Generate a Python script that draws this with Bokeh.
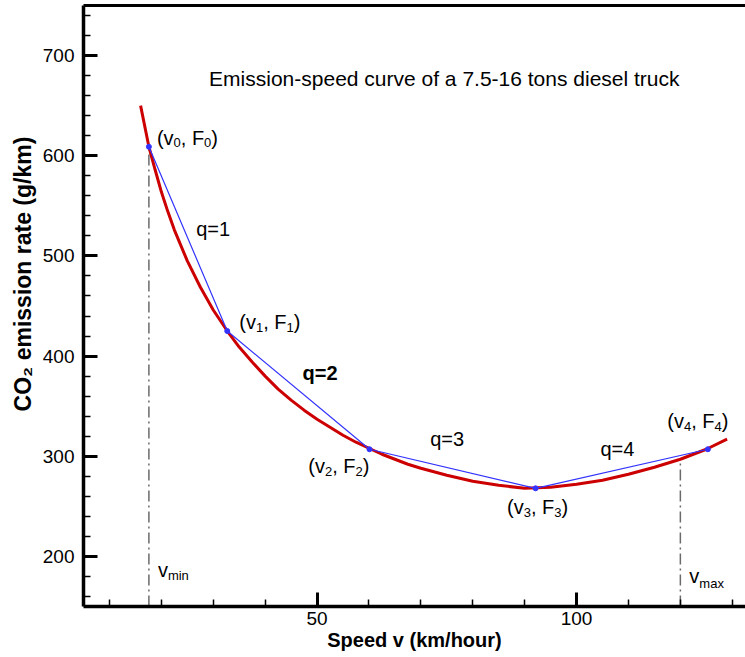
import math
from bokeh.plotting import figure
from bokeh.models import Label, FixedTicker, LinearAxis, Range1d
from bokeh.embed import file_html
from bokeh.resources import INLINE

# ---------------- data ----------------
speed = [16, 17.6, 18.8, 20, 21.2, 22.5, 25, 27.5, 30, 32.7, 35, 37.5, 40, 42.5, 45,
         47.5, 50, 52.5, 55, 57.5, 60, 62.5, 65, 67.5, 70, 75, 80, 85, 90, 95,
         100, 105, 110, 115, 120, 125, 129]
emission = [650, 609, 586, 564, 545, 526, 495, 469, 446, 425, 409, 394, 380, 367, 356,
            346, 337, 329, 321, 314, 308, 302, 297, 292, 288, 281, 275, 271, 268, 269,
            272, 276, 282, 289, 297, 307, 317]

bp_speed = [17.6, 32.7, 60.1, 92.1, 125.3]
bp_emission = [609, 425, 307, 268, 307]

guide_speed = [17.6, 120]          # v_min, v_max
guide_top = [609, 297]             # curve value at v_min / v_max

x_major = [50, 100]
x_minor = [10, 20, 30, 40, 60, 70, 80, 90, 110, 120, 130]
y_major = [200, 300, 400, 500, 600, 700]
y_minor = [160, 180, 220, 240, 260, 280, 320, 340, 360, 380, 420, 440, 460, 480,
           520, 540, 560, 580, 620, 640, 660, 680, 720, 740]

FONT = "Liberation Sans"
LIFT = 9   # screen-pixel correction for label baselines

p = figure(width=745, height=657, x_range=Range1d(5, 132.55), y_range=Range1d(150, 750),
           output_backend="svg", toolbar_location=None,
           min_border_left=83, min_border_right=0, min_border_top=5, min_border_bottom=51)
p.outline_line_color = None
p.xgrid.visible = False
p.ygrid.visible = False
p.background_fill_color = "white"
p.border_fill_color = "white"

for ax, major, minor in ((p.xaxis[0], x_major, x_minor), (p.yaxis[0], y_major, y_minor)):
    ax.ticker = FixedTicker(ticks=major, minor_ticks=minor)
    ax.axis_line_width = 3.5
    ax.axis_line_color = "black"
    ax.major_tick_line_width = 3
    ax.major_tick_line_color = "black"
    ax.minor_tick_line_width = 1.5
    ax.minor_tick_line_color = "black"
    ax.major_tick_in = 14
    ax.major_tick_out = 0
    ax.minor_tick_in = 7
    ax.minor_tick_out = 0
    ax.major_label_text_font = FONT
    ax.major_label_text_font_size = "19px"
    ax.major_label_text_color = "black"
    ax.axis_label_text_font = FONT
    ax.axis_label_text_font_style = "bold"
    ax.axis_label_text_color = "black"

p.xaxis.major_label_standoff = 5
p.xaxis.axis_label = "Speed v (km/hour)"
p.xaxis.axis_label_text_font_size = "20px"
p.xaxis.axis_label_standoff = 1

p.yaxis.major_label_standoff = 9
p.yaxis.axis_label = "\u00a0" * 10 + "CO\u2082 emission rate (g/km)"
p.yaxis.axis_label_text_font_size = "23px"
p.yaxis.axis_label_standoff = 4

top_axis = LinearAxis(ticker=FixedTicker(ticks=[]), axis_line_width=3, axis_line_color="black",
                      major_tick_in=0, major_tick_out=0, minor_tick_in=0, minor_tick_out=0,
                      major_label_text_font_size="0px", major_label_standoff=0)
p.add_layout(top_axis, "above")

# ---------------- glyphs ----------------
p.segment(x0=guide_speed, y0=[150, 150], x1=guide_speed, y1=guide_top,
          line_color="#6a6a6a", line_width=1.5, line_dash="11 4 2 4")
p.line(speed, emission, line_color="#cc0000", line_width=3)
p.line(bp_speed, bp_emission, line_color="#3333ff", line_width=1.2)
p.scatter(bp_speed, bp_emission, size=5, color="#3333ff")

# ---------------- rich text helper ----------------
W = {'(': .333, ')': .333, 'v': .5, ',': .278, ' ': .278, 'F': .611, 'm': .833,
     'i': .222, 'n': .556, 'a': .556, 'x': .5, 'q': .556, '=': .584}
for d in "0123456789":
    W[d] = .556


def tw(s, size):
    return sum(W.get(c, .556) for c in s) * size


def rich(x, y, pieces, dx=0, dy=0, align="left", size=20, sub=13, drop=5, bold=False):
    total = sum(tw(t, sub if s else size) for t, s in pieces)
    start = dx - (total if align == "right" else total / 2 if align == "center" else 0)
    cur = start
    for t, s in pieces:
        fs = sub if s else size
        p.add_layout(Label(x=x, y=y, x_offset=cur, y_offset=dy + LIFT - (drop if s else 0), text=t,
                           text_font=FONT, text_font_size=f"{fs}px", text_color="black",
                           text_font_style="bold" if bold else "normal",
                           text_align="left", text_baseline="alphabetic"))
        cur += tw(t, fs)


def point_label(i, dx, dy, align):
    rich(bp_speed[i], bp_emission[i],
         [("(v", False), (str(i), True), (", F", False), (str(i), True), (")", False)],
         dx=dx, dy=dy, align=align)


point_label(0, 8, 0, "left")
point_label(1, 12, 0, "left")
point_label(2, 0, -26, "right")
point_label(3, 2, -28, "center")
point_label(4, -10, 19, "center")

rich(26.7, 518, [("q=1", False)])
rich(47.2, 374, [("q=2", False)], bold=True)
rich(71.8, 308, [("q=3", False)])
rich(104.6, 298, [("q=4", False)])

rich(guide_speed[0], 150, [("v", False), ("min", True)], dx=9, dy=28, size=20, sub=13, drop=6)
rich(guide_speed[1], 150, [("v", False), ("max", True)], dx=9, dy=22, size=20, sub=13, drop=8)

# title
p.add_layout(Label(x=29.2, y=668, y_offset=LIFT,
                   text="Emission-speed curve of a 7.5-16 tons diesel truck",
                   text_font=FONT, text_font_size="21px", text_color="black",
                   text_align="left", text_baseline="alphabetic"))

open("out.html", "w").write(file_html(p, INLINE))
